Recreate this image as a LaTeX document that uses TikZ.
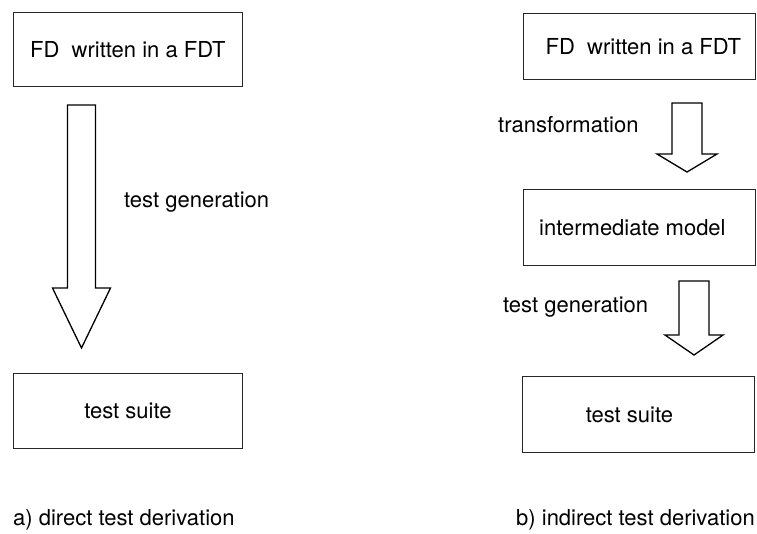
\documentclass[tikz,border=0pt]{standalone}
\usepackage{fontspec}
\setmainfont{TeX Gyre Heros}
\usetikzlibrary{calc}
\tikzset{
  box/.style={draw=black!85, line width=0.8pt, rectangle, inner sep=0pt, anchor=north west},
  txt/.style={font=\fontsize{22}{26}\selectfont, inner sep=0pt},
  blockarrow/.style={draw=black, line width=1.3pt, line join=miter, fill=white}
}
% block arrow: #1 = top of shaft, #2 = shaft half width, #3 = head base depth below top,
% #4 = head half width, #5 = tip depth below top
\newcommand{\blockarr}[5]{%
  \draw[blockarrow] ($(#1)+(-#2,0)$) -- ($(#1)+(#2,0)$) -- ($(#1)+(#2,#3)$)
    -- ($(#1)+(#4,#3)$) -- ($(#1)+(0,#5)$) -- ($(#1)+(-#4,#3)$)
    -- ($(#1)+(-#2,#3)$) -- cycle;}
\begin{document}
\begin{tikzpicture}[x=1pt, y=-1pt]
\useasboundingbox (0,0) rectangle (757,533);

% a) direct derivation
\node[box, minimum width=229pt, minimum height=74pt, txt] (fdA) at (13,12) {FD\ \ written in a FDT};
\node[box, minimum width=229pt, minimum height=75pt, txt] (tsA) at (13,373) {test suite};
\coordinate (genA) at (81.5,105);
\blockarr{genA}{14}{183}{29}{243}
\node[txt, anchor=west] (genAlab) at (124,202) {test generation};
\node[txt, anchor=west] (capA) at (13,520) {a) direct test derivation};

% b) indirect derivation
\node[box, minimum width=232pt, minimum height=66pt,
      label={[txt, xshift=4pt]center:FD\ \ written in a FDT}] (fdB) at (523,13) {};
\node[box, minimum width=232pt, minimum height=76pt,
      label={[txt, xshift=-7pt]center:intermediate model}] (imB) at (523,189) {};
\node[box, minimum width=232pt, minimum height=76pt,
      label={[txt, xshift=-9pt]center:test suite}] (tsB) at (522,376) {};
\coordinate (trB) at (687,103);
\blockarr{trB}{15}{51}{30}{69}
\coordinate (genB) at (694,281);
\blockarr{genB}{15}{54}{29}{74}
\node[txt, anchor=west] (trBlab) at (498,125) {transformation};
\node[txt, anchor=west] (genBlab) at (503,307) {test generation};
\node[txt, anchor=west] (capB) at (516,520) {b) indirect test derivation};
\end{tikzpicture}
\end{document}
